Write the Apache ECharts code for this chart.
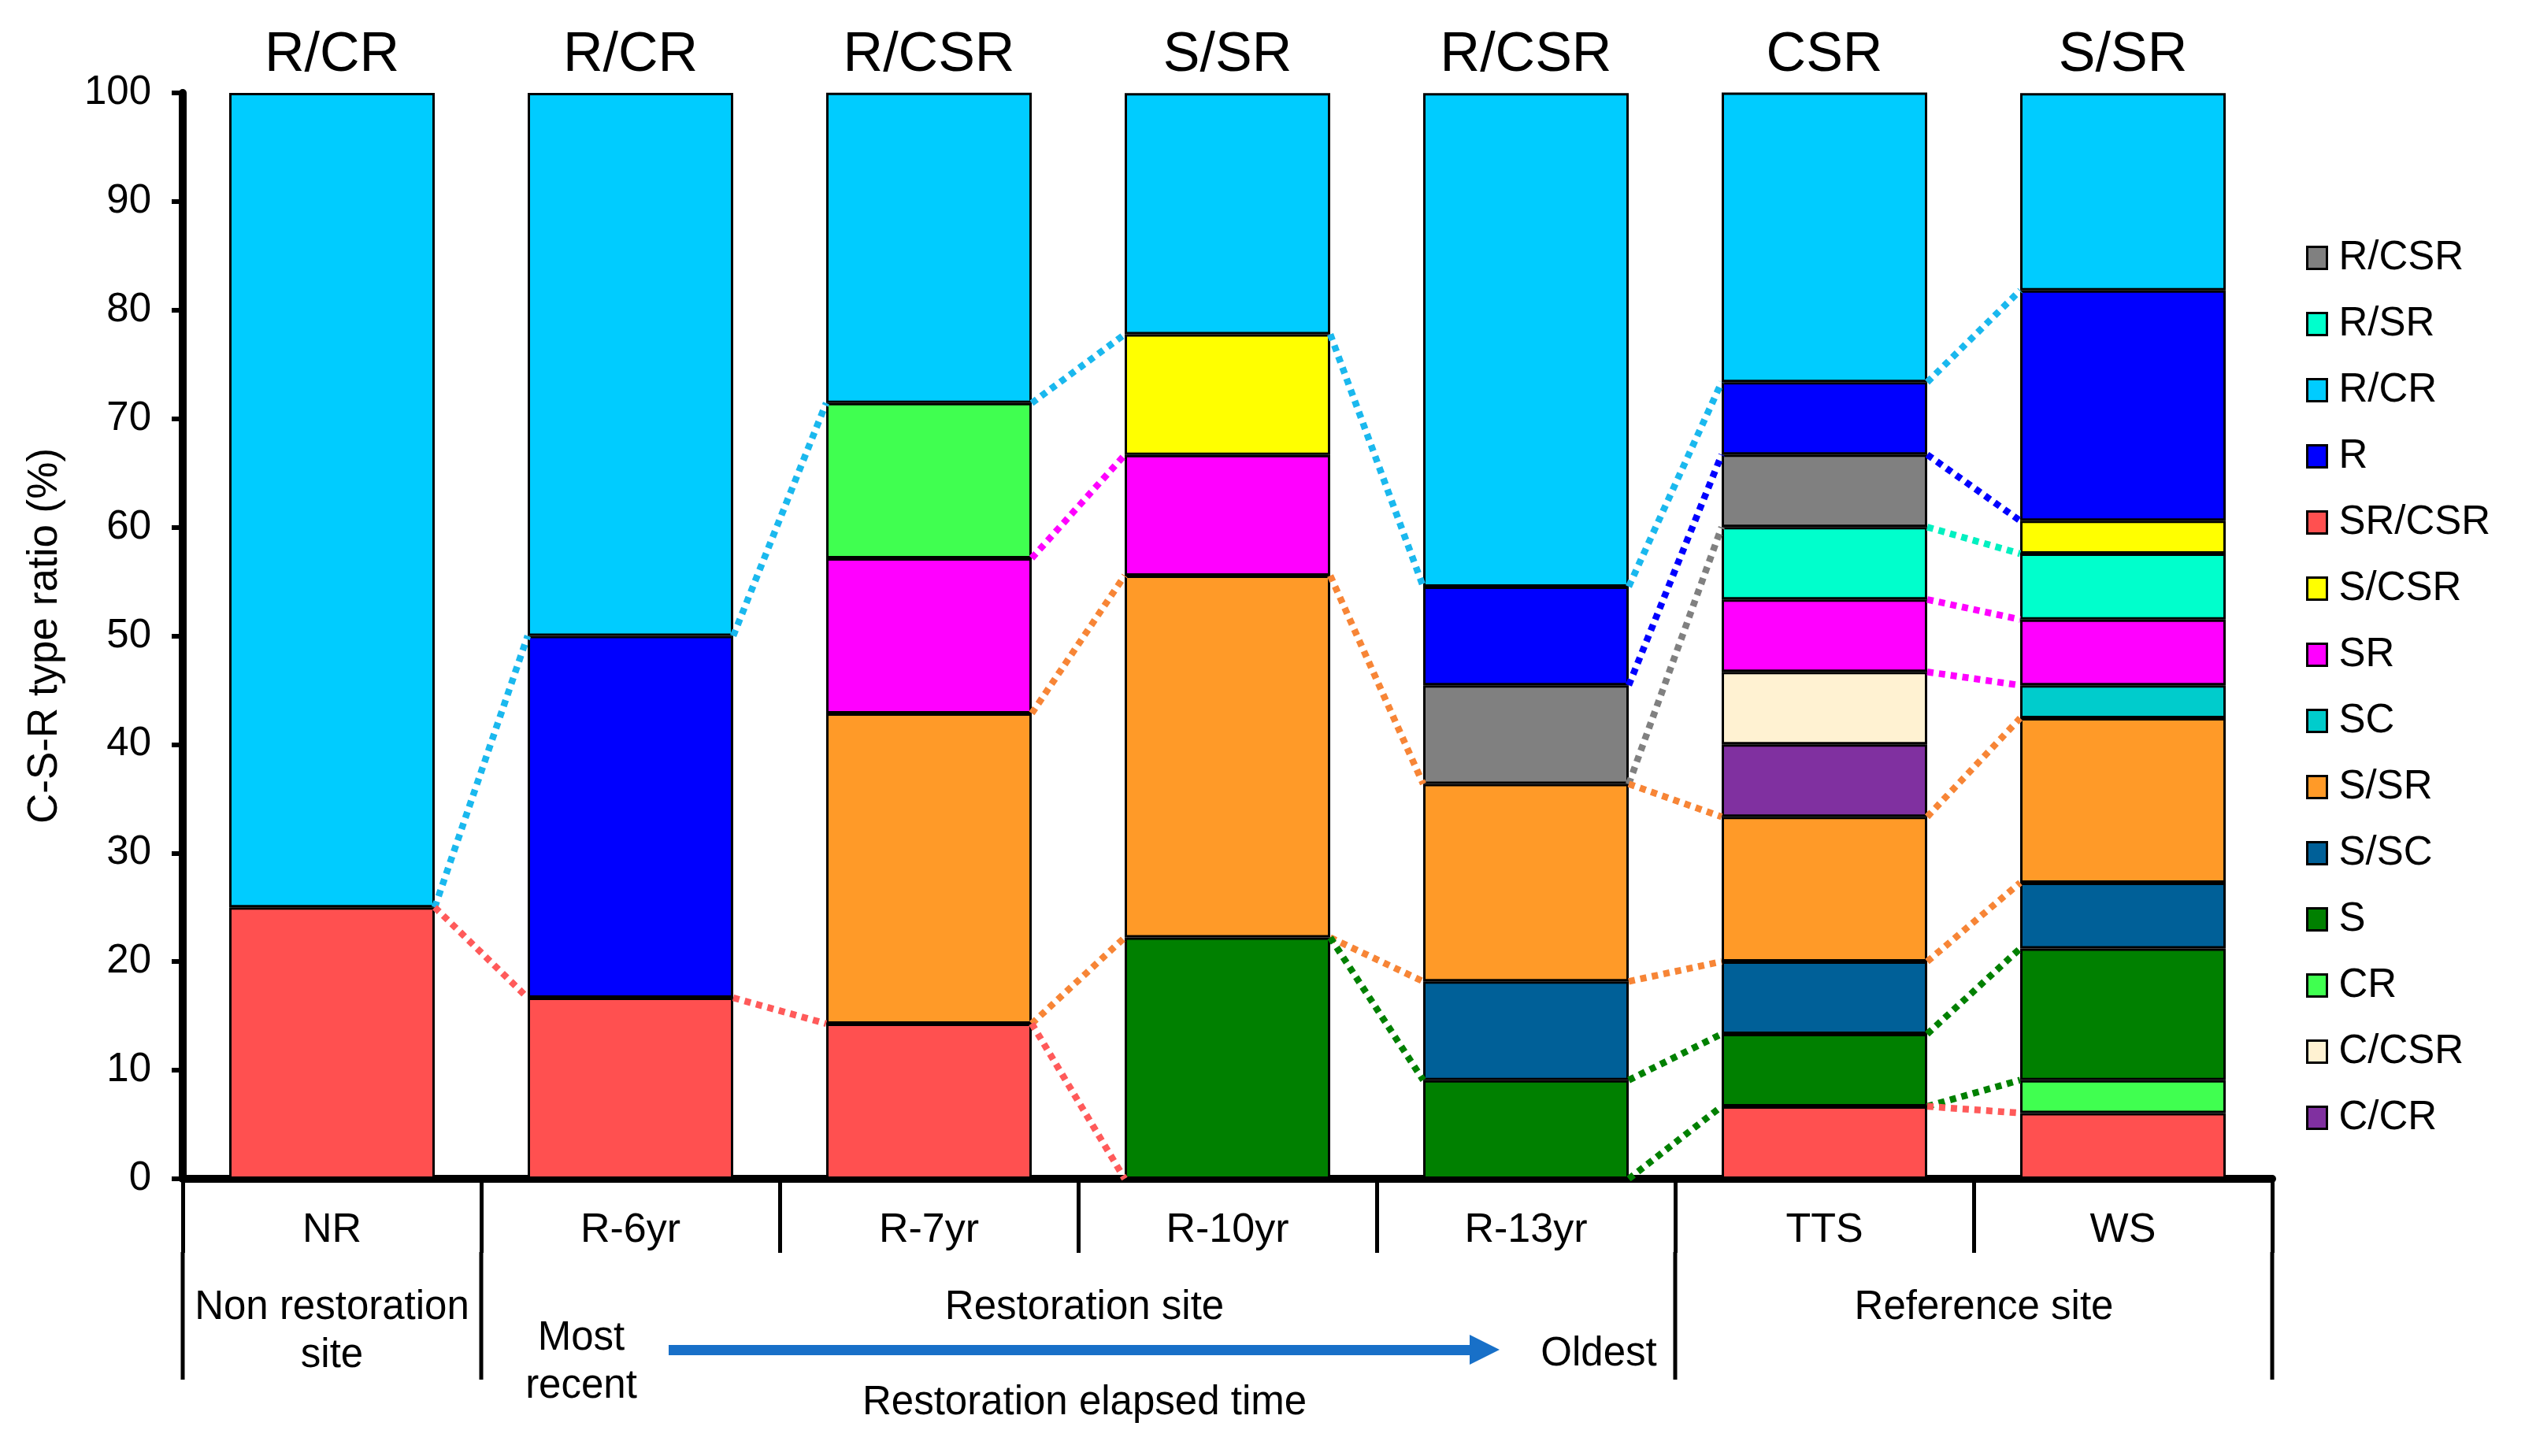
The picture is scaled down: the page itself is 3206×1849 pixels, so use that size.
<!DOCTYPE html>
<html><head><meta charset="utf-8">
<script src="https://cdn.jsdelivr.net/npm/echarts@6/dist/echarts.min.js"></script>
<style>html,body{margin:0;padding:0;background:#fff}#c{width:3206px;height:1849px}</style>
</head><body><div id="c"></div>
<script>
// ---------------- data ----------------
const categories = ['NR', 'R-6yr', 'R-7yr', 'R-10yr', 'R-13yr', 'TTS', 'WS'];
const topLabels  = ['R/CR', 'R/CR', 'R/CSR', 'S/SR', 'R/CSR', 'CSR', 'S/SR'];
const yTicks = [0, 10, 20, 30, 40, 50, 60, 70, 80, 90, 100];

const SR_CSR = [25.00, 16.67, 14.29, 0,     0,     6.67,  6.06];
const CR     = [0,     0,     14.29, 0,     0,     0,     3.03];
const S      = [0,     0,     0,     22.22, 9.09,  6.67,  12.12];
const S_SC   = [0,     0,     0,     0,     9.09,  6.67,  6.06];
const S_SR   = [0,     0,     28.57, 33.33, 18.18, 13.33, 15.15];
const SC     = [0,     0,     0,     0,     0,     0,     3.03];
const C_CR   = [0,     0,     0,     0,     0,     6.67,  0];
const C_CSR  = [0,     0,     0,     0,     0,     6.67,  0];
const SR     = [0,     0,     14.29, 11.11, 0,     6.67,  6.06];
const R_SR   = [0,     0,     0,     0,     0,     6.67,  6.06];
const S_CSR  = [0,     0,     0,     11.11, 0,     0,     3.03];
const R_CSR  = [0,     0,     0,     0,     9.09,  6.67,  0];
const R      = [0,     33.33, 0,     0,     9.09,  6.67,  21.21];
const R_CR   = [75.00, 50.00, 28.57, 22.22, 45.45, 26.67, 18.18];
// CR sits just above SR/CSR in WS, but above SR in R-7yr
const crBelowS = [false, false, false, false, false, false, true];

const legendOrder = ['R/CSR', 'R/SR', 'R/CR', 'R', 'SR/CSR', 'S/CSR', 'SR', 'SC', 'S/SR', 'S/SC', 'S', 'CR', 'C/CSR', 'C/CR'];

// connectors: [from category index, type, boundary]
const links = [
  [0, 'R/CR', 'bottom'], [0, 'SR/CSR', 'top'],
  [1, 'R/CR', 'bottom'], [1, 'SR/CSR', 'top'],
  [2, 'R/CR', 'bottom'], [2, 'SR', 'top'], [2, 'S/SR', 'top'], [2, 'S/SR', 'bottom'], [2, 'SR/CSR', 'top'],
  [3, 'R/CR', 'bottom'], [3, 'S/SR', 'top'], [3, 'S/SR', 'bottom'], [3, 'S', 'top'],
  [4, 'R/CR', 'bottom'], [4, 'R', 'bottom'], [4, 'R/CSR', 'bottom'], [4, 'S/SR', 'top'], [4, 'S/SR', 'bottom'], [4, 'S', 'top'], [4, 'S', 'bottom'],
  [5, 'R/CR', 'bottom'], [5, 'R', 'bottom'], [5, 'R/SR', 'top'], [5, 'SR', 'top'], [5, 'SR', 'bottom'], [5, 'S/SR', 'top'], [5, 'S/SR', 'bottom'], [5, 'S', 'top'], [5, 'S', 'bottom'], [5, 'SR/CSR', 'top']
];

// ---------------- styles ----------------
const colors = {
  'R/CSR': '#808080', 'R/SR': '#00ffcc', 'R/CR': '#00ccff', 'R': '#0000ff',
  'SR/CSR': '#ff5050', 'S/CSR': '#ffff00', 'SR': '#ff00ff', 'SC': '#00cccc',
  'S/SR': '#ff9a28', 'S/SC': '#006098', 'S': '#008000', 'CR': '#40ff50',
  'C/CSR': '#fff2d2', 'C/CR': '#8030a0'
};
const linkColors = {
  'R/CR': '#1ab8ee', 'SR/CSR': '#ff5a5a', 'SR': '#ff00ff', 'S/SR': '#f78536',
  'S': '#008000', 'R': '#0000ff', 'R/CSR': '#808080', 'R/SR': '#00f0c0'
};
const FONT = '"Liberation Sans", Arial, sans-serif';
const GL = 232, GT = 118, GR = 2885, GB = 1497;
const CAT_W = (GR - GL) / categories.length;
const BAR_W = 261;

const stackDef = [
  ['SR/CSR', SR_CSR],
  ['CR', CR.map((v, i) => crBelowS[i] ? v : 0)],
  ['S', S], ['S/SC', S_SC], ['S/SR', S_SR], ['SC', SC], ['C/CR', C_CR], ['C/CSR', C_CSR], ['SR', SR],
  ['CR', CR.map((v, i) => crBelowS[i] ? 0 : v)],
  ['R/SR', R_SR], ['S/CSR', S_CSR], ['R/CSR', R_CSR], ['R', R], ['R/CR', R_CR]
];

// boundaries of each type per category
const bounds = {};
const running = categories.map(() => 0);
stackDef.forEach(([name, vals]) => {
  const b = vals.map((v, i) => [running[i], running[i] + v]);
  vals.forEach((v, i) => { running[i] += v; });
  if (!bounds[name]) bounds[name] = b;
});
const linkData = links.map(([i, t, edge]) => {
  const k = edge === 'top' ? 1 : 0;
  return [i, bounds[t][i][k], bounds[t][i + 1][k]];
});

const barSeries = stackDef.map(([name, vals]) => {
  const s = {
    type: 'bar', name: name, stack: 'total', barWidth: BAR_W,
    data: vals.map(v => v > 0 ? v : null),
    itemStyle: { color: colors[name], borderColor: '#000', borderWidth: 3 },
    emphasis: { disabled: true }, silent: true, z: 2
  };
  if (name === 'R/CR') {
    s.label = {
      show: true, position: 'top', distance: 12,
      formatter: p => topLabels[p.dataIndex],
      fontSize: 70, color: '#000', fontFamily: FONT
    };
  }
  return s;
});

const linkSeries = {
  type: 'custom', coordinateSystem: 'cartesian2d', silent: true, z: 10,
  data: linkData, encode: { x: 0, y: [1, 2] },
  renderItem: (params, api) => {
    const i = api.value(0);
    const p0 = api.coord([i, api.value(1)]);
    const p1 = api.coord([i + 1, api.value(2)]);
    const key = links[params.dataIndex][1];
    return {
      type: 'line',
      shape: { x1: p0[0] + BAR_W / 2, y1: p0[1], x2: p1[0] - BAR_W / 2, y2: p1[1] },
      style: { stroke: linkColors[key], lineWidth: 8.5, lineDash: [8, 7], lineCap: 'butt' }
    };
  }
};

// ---------------- annotations ----------------
const TXT = 51;
function txt(x, y, s) {
  return { type: 'text', x: x, y: y, style: { text: s, fontSize: TXT, fontFamily: FONT, fill: '#000', align: 'center', verticalAlign: 'middle' } };
}
const longSep = [0, 1, 5, 7].map(k => ({
  type: 'line', shape: { x1: GL + k * CAT_W, y1: 1590, x2: GL + k * CAT_W, y2: 1752 },
  style: { stroke: '#000', lineWidth: 5 }
}));
const graphics = longSep.concat([
  txt(GL + 0.5 * CAT_W, 1661, 'Non restoration'),
  txt(GL + 0.5 * CAT_W, 1722, 'site'),
  txt(GL + 3 * CAT_W + 8, 1661, 'Restoration site'),
  txt(GL + 6 * CAT_W + 13, 1661, 'Reference site'),
  txt(738, 1700, 'Most'),
  txt(738, 1761, 'recent'),
  txt(2030, 1720, 'Oldest'),
  txt(GL + 3 * CAT_W + 8, 1782, 'Restoration elapsed time'),
  { type: 'polygon', shape: { points: [[849, 1708], [1866, 1708], [1866, 1695], [1904, 1714], [1866, 1733], [1866, 1721], [849, 1721]] },
    style: { fill: '#1870c8' } }
]);

const chart = echarts.init(document.getElementById('c'), null, { renderer: 'canvas' });
chart.setOption({
  backgroundColor: '#fff',
  animation: false,
  textStyle: { fontFamily: FONT },
  grid: { left: GL, top: GT, right: 3206 - GR, bottom: 1849 - GB, containLabel: false },
  legend: {
    data: legendOrder, orient: 'vertical', left: 2923, top: 297,
    icon: 'rect', itemWidth: 25, itemHeight: 28, itemGap: 33,
    itemStyle: { borderColor: '#000', borderWidth: 3 },
    textStyle: { fontSize: 51, color: '#000', fontFamily: FONT, lineHeight: 50, padding: [0, 0, 0, 10] },
    selectedMode: false
  },
  xAxis: {
    type: 'category', data: categories, boundaryGap: true,
    axisLine: { show: true, lineStyle: { color: '#000', width: 10 } },
    axisTick: { show: true, interval: 0, length: 94, lineStyle: { color: '#000', width: 5 } },
    axisLabel: { show: true, interval: 0, fontSize: 52, color: '#000', margin: 40, fontFamily: FONT },
    splitLine: { show: false }
  },
  yAxis: {
    type: 'value', min: 0, max: 100, interval: 10,
    name: 'C-S-R type ratio (%)', nameLocation: 'middle', nameGap: 148, nameRotate: 90,
    nameTextStyle: { fontSize: 53, color: '#000', fontFamily: FONT },
    axisLine: { show: true, lineStyle: { color: '#000', width: 10 } },
    axisTick: { show: true, length: 14, lineStyle: { color: '#000', width: 6 } },
    axisLabel: { fontSize: 51, color: '#000', margin: 40, fontFamily: FONT,
      formatter: v => yTicks.indexOf(v) >= 0 ? String(v) : '' },
    splitLine: { show: false }
  },
  series: barSeries.concat([linkSeries]),
  graphic: graphics
});
</script></body></html>
